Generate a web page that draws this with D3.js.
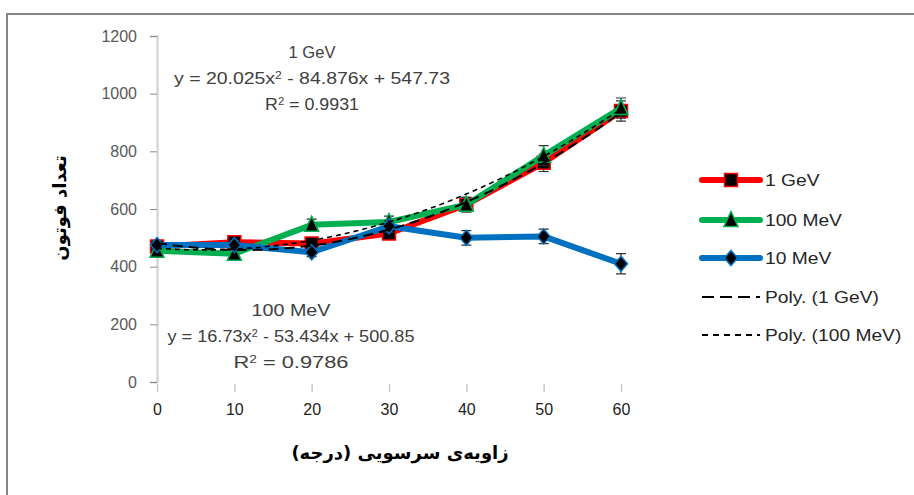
<!DOCTYPE html>
<html>
<head>
<meta charset="utf-8">
<script src="https://cdn.jsdelivr.net/npm/d3@7"></script>
<style>
  body { margin: 0; background: #fff; }
  svg { display: block; }
</style>
</head>
<body>
<svg width="914" height="495"></svg>
<script>
// data
var angles = [0, 10, 20, 30, 40, 50, 60];
var yTicks = [0, 200, 400, 600, 800, 1000, 1200];
var seriesNames = ["1 GeV", "100 MeV", "10 MeV"];
var gev1 = [470, 485, 480, 515, 615, 760, 940];
var mev100 = [455, 445, 545, 555, 615, 785, 950];
var mev10 = [475, 475, 450, 540, 500, 505, 410];
var gev1Err = [15, 15, 20, 20, 25, 30, 35];
var mev100Err = [15, 15, 20, 20, 25, 35, 35];
var mev10Err = [15, 15, 15, 20, 25, 25, 35];
// trendline coefficients as printed on the chart (x = point index 1..7)
var poly1GeV = [547.73, -84.876, 20.025];
var poly100MeV = [500.85, -53.434, 16.73];

var svg = d3.select("svg");

// outer frame
svg.append("rect")
    .attr("x", 7).attr("y", 14)
    .attr("width", 940).attr("height", 520)
    .attr("fill", "none")
    .attr("stroke", "#868686")
    .attr("stroke-width", 2);

var x = d3.scaleLinear().domain([0, 60]).range([157, 621]);
var y = d3.scaleLinear().domain([0, 1200]).range([382, 36]);

var labelFont = "'Liberation Sans Narrow', 'Liberation Sans', sans-serif";

// y axis
var yAxis = svg.append("g")
    .attr("transform", "translate(157,0)")
    .call(d3.axisLeft(y).tickValues(yTicks).tickFormat(d3.format("d")).tickSize(7).tickPadding(13));
yAxis.select(".domain").attr("stroke", "#d0d0d0").attr("stroke-width", 2);
yAxis.selectAll(".tick line").attr("stroke", "#8c8c8c");
yAxis.selectAll(".tick text")
    .attr("fill", "#595959")
    .style("font-family", labelFont)
    .style("font-size", "16px");

// x axis
var xAxis = svg.append("g")
    .attr("transform", "translate(0,384)")
    .call(d3.axisBottom(x).tickValues(angles).tickSize(8).tickPadding(12));
xAxis.select(".domain").remove();
xAxis.selectAll(".tick line").attr("stroke", "#c8c8c8").attr("stroke-width", 1.5);
xAxis.selectAll(".tick text")
    .attr("fill", "#222")
    .style("font-family", "'Liberation Sans', Arial, sans-serif")
    .style("font-size", "16px");

// axis titles
svg.append("text")
    .attr("x", 400).attr("y", 459)
    .attr("text-anchor", "middle")
    .attr("direction", "rtl")
    .style("font-family", "'DejaVu Sans', sans-serif")
    .style("font-weight", "bold")
    .style("font-size", "18px")
    .attr("fill", "#000")
    .text("زاویه\u200Cی سرسویی (درجه)");

svg.append("text")
    .attr("transform", "translate(66,208) rotate(-90)")
    .attr("text-anchor", "middle")
    .attr("direction", "rtl")
    .style("font-family", "'DejaVu Sans', sans-serif")
    .style("font-weight", "bold")
    .style("font-size", "18px")
    .attr("fill", "#000")
    .text("تعداد فوتون");

// trendlines
function polyPoints(c) {
    var pts = [];
    for (var t = 1; t <= 7.0001; t += 0.1) {
        pts.push([(t - 1) * 10, c[0] + c[1] * t + c[2] * t * t]);
    }
    return pts;
}
var trendLine = d3.line()
    .x(function (d) { return x(d[0]); })
    .y(function (d) { return y(d[1]); });

var series = [
    { name: seriesNames[0], values: gev1, err: gev1Err, color: "#ff0000", marker: "square" },
    { name: seriesNames[1], values: mev100, err: mev100Err, color: "#00b050", marker: "triangle" },
    { name: seriesNames[2], values: mev10, err: mev10Err, color: "#0070c0", marker: "diamond" }
];

var line = d3.line()
    .x(function (d, i) { return x(angles[i]); })
    .y(function (d) { return y(d); });

function markerPath(type) {
    if (type == "square") return "M-6.5,-6.5H6.5V6.5H-6.5Z";
    if (type == "triangle") return "M0,-8.5L7,6.5H-7Z";
    return "M0,-7.5L6.5,0L0,7.5L-6.5,0Z";
}

series.forEach(function (s) {
    var g = svg.append("g");
    g.append("path")
        .datum(s.values)
        .attr("fill", "none")
        .attr("stroke", s.color)
        .attr("stroke-width", 6)
        .attr("stroke-linejoin", "round")
        .attr("d", line);
    // error bars
    g.selectAll(".err")
        .data(s.values)
        .enter().append("path")
        .attr("stroke", "#333")
        .attr("stroke-width", 1.2)
        .attr("fill", "none")
        .attr("d", function (d, i) {
            var cx = x(angles[i]), y0 = y(d - s.err[i]), y1 = y(d + s.err[i]);
            return "M" + cx + "," + y0 + "V" + y1 + "M" + (cx - 5) + "," + y0 + "H" + (cx + 5) + "M" + (cx - 5) + "," + y1 + "H" + (cx + 5);
        });
    g.selectAll(".mk")
        .data(s.values)
        .enter().append("path")
        .attr("transform", function (d, i) { return "translate(" + x(angles[i]) + "," + y(d) + ")"; })
        .attr("d", markerPath(s.marker))
        .attr("fill", "#000")
        .attr("stroke", s.color)
        .attr("stroke-width", 1.5);
});

svg.append("path")
    .attr("fill", "none")
    .attr("stroke", "#000")
    .attr("stroke-width", 2)
    .attr("stroke-dasharray", "10,6")
    .attr("d", trendLine(polyPoints(poly1GeV)));
svg.append("path")
    .attr("fill", "none")
    .attr("stroke", "#000")
    .attr("stroke-width", 1.6)
    .attr("stroke-dasharray", "5,4")
    .attr("d", trendLine(polyPoints(poly100MeV)));

// trendline labels
function labelBlock(cx, lines) {
    lines.forEach(function (l) {
        var t = svg.append("text")
            .attr("x", cx).attr("y", l.y)
            .attr("text-anchor", "middle")
            .attr("fill", "#404040")
            .style("font-family", labelFont)
            .style("font-size", "16px")
            .attr("textLength", l.w)
            .attr("lengthAdjust", "spacingAndGlyphs");
        t.append("tspan").text(l.t[0]);
        if (l.t.length > 1) {
            t.append("tspan").attr("dy", -5).style("font-size", "10px").text(l.t[1]);
            t.append("tspan").attr("dy", 5).text(l.t[2]);
        }
    });
}
labelBlock(312, [
    { y: 58, w: 47, t: ["1 GeV"] },
    { y: 84, w: 276, t: ["y = 20.025x", "2", " - 84.876x + 547.73"] },
    { y: 110, w: 94, t: ["R", "2", " = 0.9931"] }
]);
labelBlock(291, [
    { y: 316, w: 79, t: ["100 MeV"] },
    { y: 342, w: 247, t: ["y = 16.73x", "2", " - 53.434x + 500.85"] },
    { y: 368, w: 115, t: ["R", "2", " = 0.9786"] }
]);

// legend
var legendY = [180, 220, 258, 297, 335];
var legend = svg.append("g");
function legendText(row, n) {
    var t = row.append("text")
        .attr("x", 765).attr("y", 6)
        .attr("fill", "#262626")
        .style("font-family", labelFont)
        .style("font-size", "17px")
        .text(n);
    // the original text is drawn a little wider than this font
    t.attr("textLength", t.node().getComputedTextLength() * 1.13)
        .attr("lengthAdjust", "spacingAndGlyphs");
}
series.forEach(function (s, i) {
    var row = legend.append("g").attr("transform", "translate(0," + legendY[i] + ")");
    row.append("line")
        .attr("x1", 702).attr("x2", 760)
        .attr("stroke", s.color).attr("stroke-width", 6)
        .attr("stroke-linecap", "round");
    row.append("path")
        .attr("transform", "translate(731,0)")
        .attr("d", markerPath(s.marker))
        .attr("fill", "#000")
        .attr("stroke", s.color)
        .attr("stroke-width", 1.5);
    legendText(row, s.name);
});
var trendNames = ["Poly. (1 GeV)", "Poly. (100 MeV)"];
var trendDash = ["12,6", "6,5"];
trendNames.forEach(function (n, i) {
    var row = legend.append("g").attr("transform", "translate(0," + legendY[3 + i] + ")");
    row.append("line")
        .attr("x1", 702).attr("x2", 760)
        .attr("stroke", "#000").attr("stroke-width", 2)
        .attr("stroke-dasharray", trendDash[i]);
    legendText(row, n);
});
</script>
</body>
</html>
